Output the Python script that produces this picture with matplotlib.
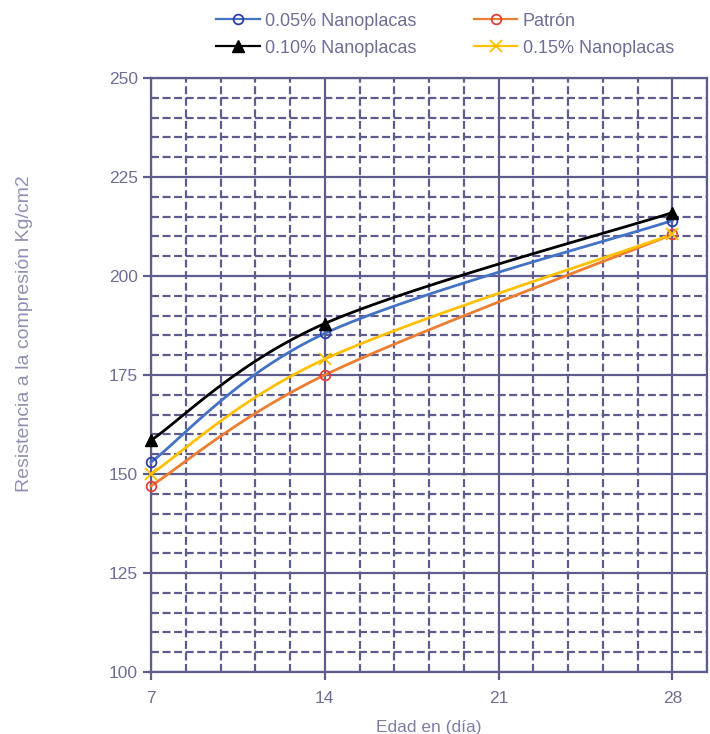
import numpy as np
import matplotlib.pyplot as plt
from matplotlib.ticker import MultipleLocator

plt.rcParams['font.family'] = ['Liberation Sans', 'DejaVu Sans']

# edades de ensayo (días) y resistencias (kg/cm2)
edad = [7, 14, 28]
nano_005 = [153, 185.5, 214]
nano_010 = [158.5, 188, 216]
patron = [147, 175, 210.5]
nano_015 = [150, 179, 210.5]

series = [
    ("0.05% Nanoplacas", nano_005, "#4472C4", dict(marker='o', mfc='none', mec='#2E3FA8', ms=7, mew=1.3)),
    ("0.10% Nanoplacas", nano_010, "#000000", dict(marker='^', mfc='#000000', mec='#000000', ms=8)),
    ("Patrón", patron, "#ED7D31", dict(marker='o', mfc='none', mec='#E0403A', ms=7, mew=1.3)),
    ("0.15% Nanoplacas", nano_015, "#FFC000", dict(marker='x', mec='#FFC000', ms=8, mew=1.3)),
]


def suavizar(x, y, n=60):
    # curva tipo Excel: tramos de Bezier cubica con tension 1/6
    x = np.asarray(x, float)
    y = np.asarray(y, float)
    px = np.concatenate([[x[0]], x, [x[-1]]])
    py = np.concatenate([[y[0]], y, [y[-1]]])
    t = np.linspace(0, 1, n)[:, None]
    xs, ys = [], []
    for i in range(1, len(x)):
        p0 = np.array([px[i], py[i]])
        p3 = np.array([px[i + 1], py[i + 1]])
        c1 = p0 + (np.array([px[i + 1], py[i + 1]]) - np.array([px[i - 1], py[i - 1]])) / 6
        c2 = p3 - (np.array([px[i + 2], py[i + 2]]) - np.array([px[i], py[i]])) / 6
        b = ((1 - t) ** 3) * p0 + 3 * ((1 - t) ** 2) * t * c1 + 3 * (1 - t) * t ** 2 * c2 + t ** 3 * p3
        xs.append(b[:, 0])
        ys.append(b[:, 1])
    return np.concatenate(xs), np.concatenate(ys)


grid_col = '#5E5C8C'
txt_col = '#6E6E96'

fig = plt.figure(figsize=(7.10, 7.34), dpi=100)
ax = fig.add_axes([0.2127, 0.0845, 0.7831, 0.8092])

handles = []
for nombre, vals, col, mk in series:
    sx, sy = suavizar(edad, vals)
    ax.plot(sx, sy, color=col, lw=2, zorder=3, clip_on=False)
    ax.plot(edad, vals, ls='none', zorder=4, clip_on=False, **mk)
    h, = ax.plot([], [], color=col, lw=1.6, **mk)
    handles.append(h)

ax.set_xlim(7, 29.4)
ax.set_ylim(100, 250)
ax.xaxis.set_major_locator(MultipleLocator(7))
ax.xaxis.set_minor_locator(MultipleLocator(1.4))
ax.yaxis.set_major_locator(MultipleLocator(25))
ax.yaxis.set_minor_locator(MultipleLocator(5))

ax.grid(which='major', color=grid_col, lw=1.6, ls='-', zorder=1)
ax.grid(which='minor', color=grid_col, lw=1.6, ls=(0, (3.6, 1.6)), zorder=1)
for s in ax.spines.values():
    s.set_color(grid_col)
    s.set_linewidth(1.6)
ax.tick_params(which='major', length=6, width=1.6, color=grid_col,
               labelcolor=txt_col, labelsize=12.5)
ax.tick_params(axis='x', which='major', pad=8)
ax.tick_params(which='minor', length=0)

ax.set_xlabel('Edad en (día)', color='#7E7EA4', fontsize=12.5, labelpad=10)
fig.text(0.034, 0.545, 'Resistencia a la compresión Kg/cm2', rotation=90,
         color='#9090B4', fontsize=14, ha='center', va='center')

fig.legend(handles=handles, labels=[s[0] for s in series], ncol=2,
           loc='upper center', bbox_to_anchor=(0.627, 1.005), frameon=False,
           fontsize=13, labelcolor=txt_col, handlelength=2.4,
           columnspacing=3.2, labelspacing=0.55, handletextpad=0.3)

fig.savefig('out.png', dpi=100, facecolor='white')
